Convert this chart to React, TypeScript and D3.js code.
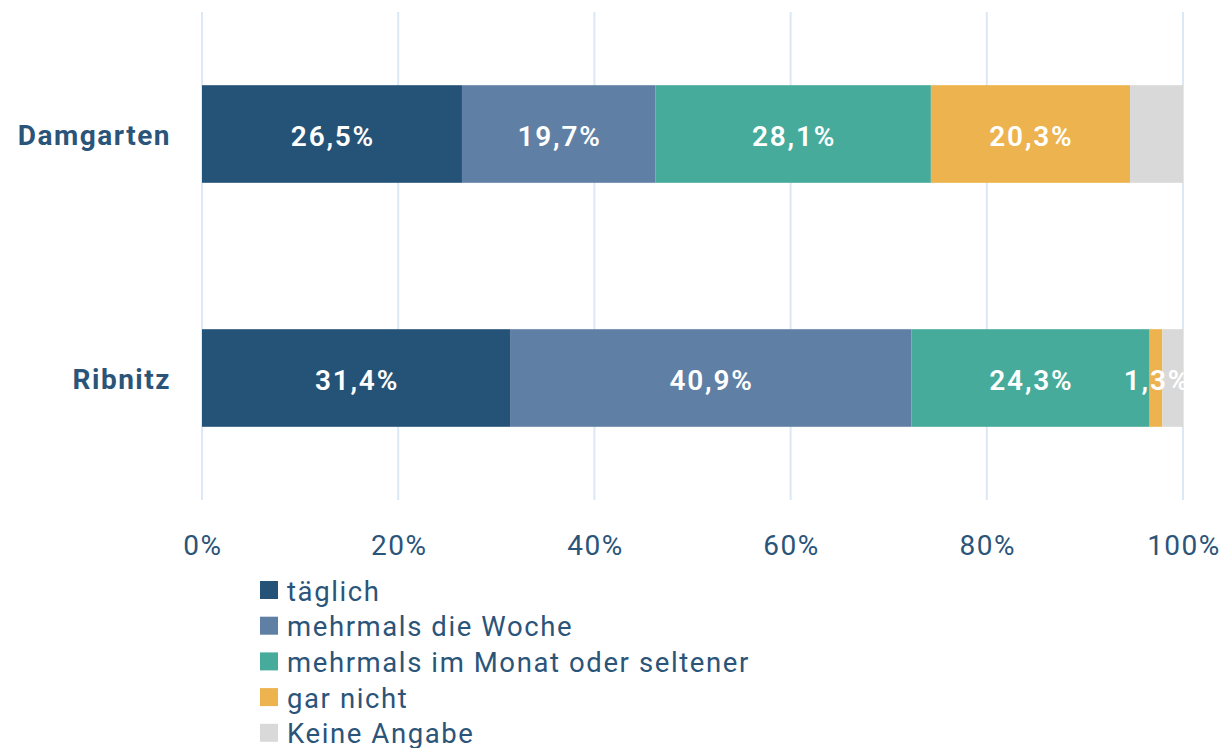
import React from "react";
import * as d3 from "d3";

const categories = ["Damgarten", "Ribnitz"];
const seriesNames = ["täglich", "mehrmals die Woche", "mehrmals im Monat oder seltener", "gar nicht", "Keine Angabe"];
const taeglich = [26.5, 31.4];
const mehrmalsWoche = [19.7, 40.9];
const mehrmalsMonat = [28.1, 24.3];
const garNicht = [20.3, 1.3];
const keineAngabe = [5.4, 2.1];
const showLabel = [true, true, true, true, false];
const colors = ["#255378", "#5f7fa5", "#46ab9b", "#edb34e", "#d9d9d9"];
const xTicks = [0, 20, 40, 60, 80, 100];

const W = 1223, H = 748;
const textColor = "#2b5479";
const font = "Roboto, 'Open Sans', sans-serif";

export default function App() {
  const series = [taeglich, mehrmalsWoche, mehrmalsMonat, garNicht, keineAngabe];
  const x = d3.scaleLinear().domain([0, 100]).range([202, 1183]);
  const y = d3.scaleBand().domain(categories).range([12, 500]).paddingInner(0.6).paddingOuter(0.3);
  const stackData = categories.map((c, i) => {
    const o: any = { cat: c };
    seriesNames.forEach((s, k) => (o[s] = series[k][i]));
    return o;
  });
  const stacked = d3.stack<any>().keys(seriesNames)(stackData);
  const fmt = (v: number) => v.toFixed(1).replace(".", ",") + "%";

  return (
    <svg width={W} height={H} style={{ position: "absolute", left: 0, top: 0, background: "#fff" }} fontFamily={font}>
      {xTicks.map((t) => (
        <line key={t} x1={x(t)} x2={x(t)} y1={12} y2={500} stroke="#dce8f3" strokeWidth={2} />
      ))}
      {stacked.map((layer, k) =>
        layer.map((d, i) => (
          <rect key={k + "-" + i} x={x(d[0])} y={y(categories[i])} width={x(d[1]) - x(d[0])} height={y.bandwidth()} fill={colors[k]} />
        ))
      )}
      {stacked.map((layer, k) =>
        showLabel[k]
          ? layer.map((d, i) => (
              <text key={"l" + k + "-" + i} x={(x(d[0]) + x(d[1])) / 2 + 1} y={y(categories[i])! + y.bandwidth() / 2 + 2} dy="0.35em" textAnchor="middle" fill="#fff" fontSize={28} fontWeight={600} letterSpacing={1.8}>
                {fmt(d[1] - d[0])}
              </text>
            ))
          : null
      )}
      {categories.map((c) => (
        <text key={c} x={171} y={y(c)! + y.bandwidth() / 2 + 1} dy="0.35em" textAnchor="end" fill={textColor} fontSize={28} fontWeight={700} letterSpacing={1.5}>
          {c}
        </text>
      ))}
      {xTicks.map((t) => (
        <text key={"t" + t} x={x(t) + 1} y={545} dy="0.35em" textAnchor="middle" fill={textColor} fontSize={28} letterSpacing={1.5}>
          {t}%
        </text>
      ))}
      {seriesNames.map((s, k) => (
        <g key={s} transform={`translate(260, ${590 + k * 35.7})`}>
          <rect x={0} y={-9} width={18} height={18} fill={colors[k]} />
          <text x={27} y={1} dy="0.35em" fill={textColor} fontSize={27.5} letterSpacing={1.6}>
            {s}
          </text>
        </g>
      ))}
    </svg>
  );
}
